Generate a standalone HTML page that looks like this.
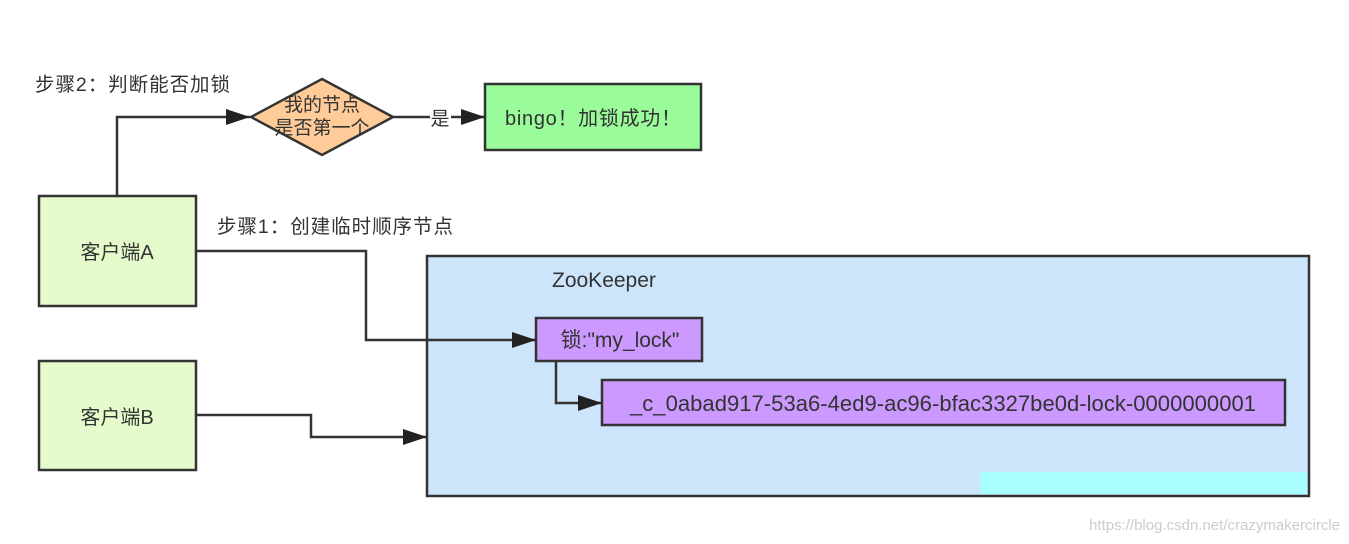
<!DOCTYPE html>
<html><head><meta charset="utf-8"><style>
body{margin:0;background:#fff;}
svg{display:block;font-family:"Liberation Sans","Noto Sans CJK SC",sans-serif;}
</style></head><body>
<svg width="1349" height="544" xmlns="http://www.w3.org/2000/svg">
<defs><marker id="b" markerWidth="24" markerHeight="16" refX="24" refY="8" orient="auto" markerUnits="userSpaceOnUse"><path d="M0,0 L24,8 L0,16 Z" fill="#222"/></marker></defs>
<rect x="427" y="256" width="882" height="240" fill="#cce5fb" stroke="#333" stroke-width="2.5"/>
<rect x="980" y="472" width="327" height="22" fill="#a8fdfe"/>
<text x="552" y="287" font-size="21" fill="#333">ZooKeeper</text>
<rect x="39" y="196" width="157" height="110" fill="#e6fbcb" stroke="#333" stroke-width="2.5"/>
<text x="117" y="259" font-size="20" fill="#333" text-anchor="middle">客户端A</text>
<rect x="39" y="361" width="157" height="109" fill="#e6fbcb" stroke="#333" stroke-width="2.5"/>
<text x="117" y="424" font-size="20" fill="#333" text-anchor="middle">客户端B</text>
<rect x="536" y="318" width="166" height="43" fill="#cc99ff" stroke="#333" stroke-width="2.5"/>
<text x="620" y="347" font-size="21" fill="#333" text-anchor="middle">锁:"my_lock"</text>
<rect x="602" y="380" width="683" height="45" fill="#cc99ff" stroke="#333" stroke-width="2.5"/>
<text x="943" y="411" font-size="22" fill="#333" text-anchor="middle" textLength="626">_c_0abad917-53a6-4ed9-ac96-bfac3327be0d-lock-0000000001</text>
<polygon points="322,79 393,117 322,155 251,117" fill="#ffcc99" stroke="#333" stroke-width="2.5"/>
<text x="322" y="111" font-size="19" fill="#333" text-anchor="middle">我的节点</text>
<text x="322" y="134" font-size="19" fill="#333" text-anchor="middle">是否第一个</text>
<rect x="485" y="84" width="216" height="66" fill="#99fb99" stroke="#333" stroke-width="2.5"/>
<text x="593" y="125" font-size="20" fill="#333" text-anchor="middle" textLength="176">bingo！加锁成功！</text>
<text x="35" y="91" font-size="19.5" fill="#333" textLength="195">步骤2：判断能否加锁</text>
<text x="217" y="233" font-size="19.5" fill="#333" textLength="236">步骤1：创建临时顺序节点</text>
<text x="440" y="125" font-size="19" fill="#333" text-anchor="middle">是</text>
<text x="1340" y="530" font-size="15" fill="#ccc" text-anchor="end">https://blog.csdn.net/crazymakercircle</text>
<g fill="none" stroke="#333" stroke-width="2.5">
<path d="M117,196 V117 H250" marker-end="url(#b)"/>
<path d="M393,117 H430"/>
<path d="M451,117 H485" marker-end="url(#b)"/>
<path d="M196,251 H366 V340 H536" marker-end="url(#b)"/>
<path d="M196,415 H311 V437 H427" marker-end="url(#b)"/>
<path d="M556,361 V403 H602" marker-end="url(#b)"/>
</g>
</svg>
</body></html>
